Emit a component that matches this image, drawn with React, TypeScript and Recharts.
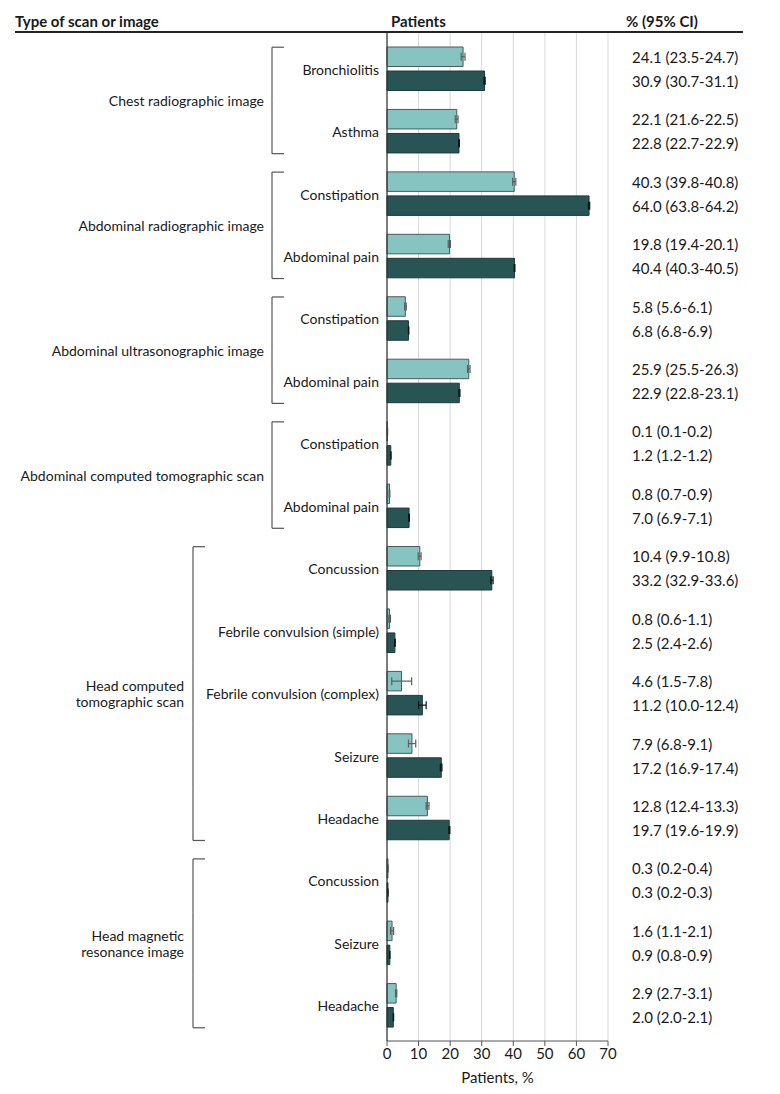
import React from 'react';
import { BarChart, Bar, XAxis, YAxis, CartesianGrid, ErrorBar, LabelList } from 'recharts';

const subLabels = [
  'Bronchiolitis', 'Asthma',
  'Constipation', 'Abdominal pain',
  'Constipation', 'Abdominal pain',
  'Constipation', 'Abdominal pain',
  'Concussion', 'Febrile convulsion (simple)', 'Febrile convulsion (complex)', 'Seizure', 'Headache',
  'Concussion', 'Seizure', 'Headache',
];
const groupIndex = [0, 0, 1, 1, 2, 2, 3, 3, 4, 4, 4, 4, 4, 5, 5, 5];
const groupLabels = [
  ['Chest radiographic image'],
  ['Abdominal radiographic image'],
  ['Abdominal ultrasonographic image'],
  ['Abdominal computed tomographic scan'],
  ['Head computed', 'tomographic scan'],
  ['Head magnetic', 'resonance image'],
];

// first bar of each pair (light)
const lightPct = [24.1, 22.1, 40.3, 19.8, 5.8, 25.9, 0.1, 0.8, 10.4, 0.8, 4.6, 7.9, 12.8, 0.3, 1.6, 2.9];
const lightLow = [23.5, 21.6, 39.8, 19.4, 5.6, 25.5, 0.1, 0.7, 9.9, 0.6, 1.5, 6.8, 12.4, 0.2, 1.1, 2.7];
const lightHigh = [24.7, 22.5, 40.8, 20.1, 6.1, 26.3, 0.2, 0.9, 10.8, 1.1, 7.8, 9.1, 13.3, 0.4, 2.1, 3.1];
// second bar of each pair (dark)
const darkPct = [30.9, 22.8, 64.0, 40.4, 6.8, 22.9, 1.2, 7.0, 33.2, 2.5, 11.2, 17.2, 19.7, 0.3, 0.9, 2.0];
const darkLow = [30.7, 22.7, 63.8, 40.3, 6.8, 22.8, 1.2, 6.9, 32.9, 2.4, 10.0, 16.9, 19.6, 0.2, 0.8, 2.0];
const darkHigh = [31.1, 22.9, 64.2, 40.5, 6.9, 23.1, 1.2, 7.1, 33.6, 2.6, 12.4, 17.4, 19.9, 0.3, 0.9, 2.1];

const xTicks = [0, 10, 20, 30, 40, 50, 60, 70];

const fmt = (v: number, lo: number, hi: number) => `${v.toFixed(1)} (${lo.toFixed(1)}-${hi.toFixed(1)})`;

const data = subLabels.map((_, i) => ({
  id: String(i),
  light: lightPct[i],
  lightErr: [lightPct[i] - lightLow[i], lightHigh[i] - lightPct[i]],
  lightText: fmt(lightPct[i], lightLow[i], lightHigh[i]),
  dark: darkPct[i],
  darkErr: [darkPct[i] - darkLow[i], darkHigh[i] - darkPct[i]],
  darkText: fmt(darkPct[i], darkLow[i], darkHigh[i]),
}));

const FONT = 'Lato, "Open Sans", sans-serif';
const W = 764;
const H = 1086;
const M_TOP = 25;
const M_BOTTOM = 8;
const X_AXIS_H = 45;
const PAD_TOP = 5;
const PAD_BOTTOM = 4;
const Y_AXIS_W = 379;
const BAND = (H - M_TOP - M_BOTTOM - X_AXIS_H - PAD_TOP - PAD_BOTTOM) / subLabels.length;
const PAIR_HALF = 22;
const VALUE_X = 624;
const TXT = '#1a1a1a';

const CategoryTick = (props: any) => {
  const { y, payload } = props;
  const i = Number(payload.value);
  const g = groupIndex[i];
  const members = groupIndex.map((gg, k) => (gg === g ? k : -1)).filter(k => k >= 0);
  const first = members[0];
  const last = members[members.length - 1];
  const head = g >= 4;
  const bx = head ? 185 : 264;
  const labelRight = head ? 176 : 256;
  const top = i === first ? y - PAIR_HALF : y - BAND / 2;
  const bottom = i === last ? y + PAIR_HALF : y + BAND / 2;
  const mid = (members.length - 1) / 2;
  const showGroup = i === first + Math.floor(mid);
  const gy = y + (mid - Math.floor(mid)) * BAND;
  const lines = groupLabels[g];
  return (
    <g>
      <text x={371} y={y} textAnchor="end" dominantBaseline="central" fontSize={14} fill={TXT} fontFamily={FONT}>
        {subLabels[i]}
      </text>
      <line x1={bx} x2={bx} y1={top} y2={bottom} stroke="#555" strokeWidth={1.2} />
      {i === first && <line x1={bx} x2={bx + 12} y1={top} y2={top} stroke="#555" strokeWidth={1.2} />}
      {i === last && <line x1={bx} x2={bx + 12} y1={bottom} y2={bottom} stroke="#555" strokeWidth={1.2} />}
      {showGroup &&
        lines.map((ln, k) => (
          <text
            key={k}
            x={labelRight}
            y={gy + (k - (lines.length - 1) / 2) * 16}
            textAnchor="end"
            dominantBaseline="central"
            fontSize={14}
            fill={TXT}
            fontFamily={FONT}
          >
            {ln}
          </text>
        ))}
    </g>
  );
};

const ValueLabel = (props: any) => {
  const { y, height, value } = props;
  return (
    <text x={VALUE_X} y={y + height / 2} dominantBaseline="central" fontSize={15} fill={TXT} fontFamily={FONT}>
      {value}
    </text>
  );
};

const headStyle: React.CSSProperties = { position: 'absolute', top: 4, fontSize: 15, fontWeight: 700, color: TXT };

export default function App() {
  return (
    <div style={{ position: 'relative', width: W, height: H, fontFamily: FONT }}>
      <div style={{ ...headStyle, left: 7 }}>Type of scan or image</div>
      <div style={{ ...headStyle, left: 383 }}>Patients</div>
      <div style={{ ...headStyle, left: 618 }}>% (95% CI)</div>
      <div style={{ position: 'absolute', left: 7, top: 23, width: 728, height: 1.5, background: '#222' }} />
      <BarChart
        width={W}
        height={H}
        data={data}
        layout="vertical"
        margin={{ top: M_TOP, right: W - Y_AXIS_W - 221, bottom: M_BOTTOM, left: 0 }}
        barSize={19.5}
        barGap={4.5}
      >
        <CartesianGrid horizontal={false} stroke="#d9d9d9" />
        <XAxis
          type="number"
          domain={[0, 70]}
          ticks={xTicks}
          height={X_AXIS_H}
          tickSize={5}
          tick={{ fontSize: 15, fill: TXT, fontFamily: FONT }}
          axisLine={{ stroke: '#555' }}
          tickLine={{ stroke: '#555' }}
          label={{ value: 'Patients, %', position: 'insideBottom', offset: 3, fontSize: 15, fill: TXT, fontFamily: FONT }}
        />
        <YAxis
          type="category"
          dataKey="id"
          width={Y_AXIS_W}
          padding={{ top: PAD_TOP, bottom: PAD_BOTTOM }}
          tickLine={false}
          axisLine={{ stroke: '#333', strokeWidth: 1.2 }}
          tick={<CategoryTick />}
          interval={0}
        />
        <Bar dataKey="light" fill="#86c4c1" stroke="#4a5a5a" strokeWidth={1} isAnimationActive={false}>
          <ErrorBar dataKey="lightErr" direction="x" width={4} stroke="#5e5e5e" strokeWidth={1.2} />
          <LabelList dataKey="lightText" content={<ValueLabel />} />
        </Bar>
        <Bar dataKey="dark" fill="#285453" stroke="#1e3a39" strokeWidth={1} isAnimationActive={false}>
          <ErrorBar dataKey="darkErr" direction="x" width={4} stroke="#111" strokeWidth={1.2} />
          <LabelList dataKey="darkText" content={<ValueLabel />} />
        </Bar>
      </BarChart>
    </div>
  );
}
